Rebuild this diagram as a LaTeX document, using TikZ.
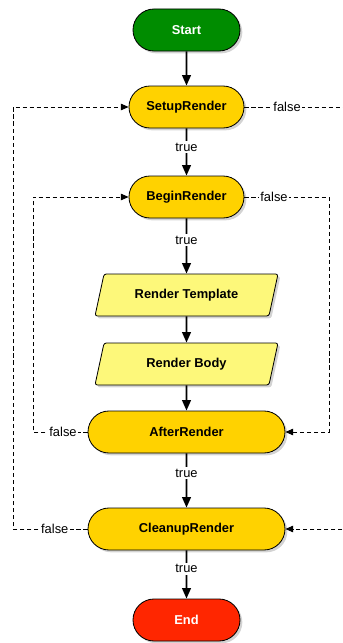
\documentclass[tikz,border=0pt]{standalone}
\usepackage{fontspec}
\setsansfont{Liberation Sans}
\usetikzlibrary{shapes,shapes.misc,shapes.geometric,arrows.meta,shadows}
\definecolor{startgreen}{RGB}{0,140,0}
\definecolor{stepyellow}{RGB}{255,210,0}
\definecolor{ioyellow}{RGB}{253,248,122}
\definecolor{endred}{RGB}{255,38,0}
\tikzset{
term/.style={rounded rectangle, draw=black, line width=0.7pt, minimum height=1.26cm, inner sep=0pt,
  font=\sffamily\bfseries\fontsize{11}{13}\selectfont,
  drop shadow={opacity=0.35, shadow xshift=2pt, shadow yshift=-2pt}},
io/.style={trapezium, trapezium left angle=53, trapezium right angle=127, trapezium stretches body=true,
  draw=black, line width=0.7pt, fill=ioyellow, minimum height=1.26cm, minimum width=5.49cm, inner sep=0pt,
  rounded corners=2pt, font=\sffamily\bfseries\fontsize{11}{13}\selectfont,
  drop shadow={opacity=0.35, shadow xshift=2pt, shadow yshift=-2pt}},
flow/.style={line width=1.5pt, -{Triangle[length=9pt,width=7.5pt]}},
back/.style={line width=0.7pt, dash pattern=on 3.5pt off 2.5pt, -{Triangle[length=6.5pt,width=5.5pt]}},
lbl/.style={fill=white, inner sep=1.5pt, font=\sffamily\fontsize{11}{13}\selectfont},
}
\begin{document}
\begin{tikzpicture}[x=0.03cm, y=-0.03cm]
\useasboundingbox (0,0) rectangle (343,643);
\clip (0,0) rectangle (343,643);

% steps
\node[term, fill=startgreen, text=white, minimum width=3.21cm] (start) at (186.5,30) {Start};
\node[term, fill=stepyellow, minimum width=3.45cm] (setup) at (186.5,107) {SetupRender};
\node[term, fill=stepyellow, minimum width=3.45cm] (begin) at (186.5,197) {BeginRender};
\node[io] (template) at (186.5,295) {Render Template};
\node[io] (body) at (186.5,364) {Render Body};
\node[term, fill=stepyellow, minimum width=5.91cm] (after) at (186.5,432) {AfterRender};
\node[term, fill=stepyellow, minimum width=5.91cm] (cleanup) at (186.5,529) {CleanupRender};
\node[term, fill=endred, text=white, minimum width=3.21cm] (finish) at (186.5,620) {End};

% true path
\draw[flow] (start) -- (setup);
\draw[flow] (setup) -- node[lbl, pos=0.4] {true} (begin);
\draw[flow] (begin) -- node[lbl, pos=0.4] {true} (template);
\draw[flow] (template) -- (body);
\draw[flow] (body) -- (after);
\draw[flow] (after) -- node[lbl, pos=0.37] {true} (cleanup);
\draw[flow] (cleanup) -- node[lbl, pos=0.38] {true} (finish);

% false paths
\coordinate (r1) at (346,107);
\coordinate (r2) at (329,197);
\coordinate (l1) at (13,529);
\coordinate (l2) at (33,432);
\draw[back] (setup.east) -- node[lbl, pos=0.42] {false} (r1) |- (cleanup.east);
\draw[back] (begin.east) -- node[lbl, pos=0.35] {false} (r2) |- (after.east);
\draw[back] (after.west) -- node[lbl, pos=0.45] {false} (l2) |- (begin.west);
\draw[back] (cleanup.west) -- node[lbl, pos=0.44] {false} (l1) |- (setup.west);

\end{tikzpicture}
\end{document}
